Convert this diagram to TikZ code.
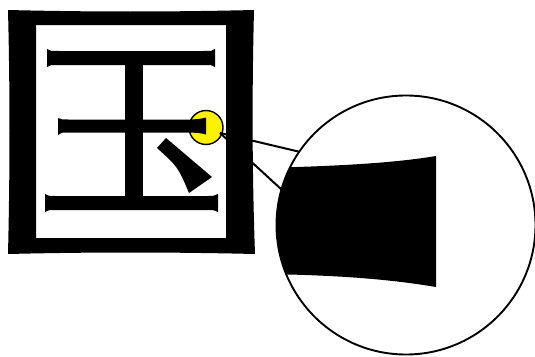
\documentclass[tikz,border=0pt]{standalone}
\begin{document}
\begin{tikzpicture}[x=1pt,y=-1pt,
  ink/.style={fill=black,draw=none},
  lens/.style={draw=black,line width=1.9pt},
  ray/.style={draw=black,line width=2pt}]
\useasboundingbox (0,0) rectangle (535,356);
% small magnifier spot
\node[circle,minimum size=34pt,inner sep=0pt,fill=yellow,draw=black,line width=1.4pt] (spot) at (206,127.5) {};
% glyph: frame
\path[ink,even odd rule]
  (8,10) .. controls (90,12) and (170,12) .. (254,10)
  .. controls (252,90) and (252,170) .. (255,254)
  .. controls (170,252) and (90,252) .. (8,254)
  .. controls (10,170) and (10,90) .. (8,10) -- cycle
  (36,25) rectangle (226,238);
% top stroke
\path[ink] (47,49) .. controls (50,51) .. (60,51) -- (203,51) .. controls (212,51) .. (215,49)
  -- (215,67) .. controls (212,65) .. (203,65) -- (60,65) .. controls (50,65) .. (47,67) -- cycle;
% middle stroke
\path[ink] (58,118) .. controls (61,119.5) .. (70,119.5) -- (190,119.5) .. controls (200,119) .. (206,117.5)
  -- (206,134.5) .. controls (200,133) .. (190,132.5) -- (70,132.5) .. controls (61,132.5) .. (58,135) -- cycle;
% bottom stroke
\path[ink] (45,194) .. controls (48,196) .. (58,196) -- (205,196) .. controls (214,196) .. (218,194)
  -- (218,212) .. controls (214,210) .. (205,210) -- (58,210) .. controls (48,210) .. (45,212) -- cycle;
% vertical stroke
\path[ink] (125,64) rectangle (143,197);
% dot stroke
\path[ink] (166,138) -- (212,177) -- (189,193) .. controls (178,167) .. (157,148) -- cycle;
% connector rays
\coordinate (p) at (220,133);
\coordinate (q1) at (330,159);
\coordinate (q2) at (300,206.5);
\draw[ray] (p) -- (q1);
\draw[ray] (p) -- (q2);
% big lens
\node[circle,minimum size=259pt,inner sep=0pt,fill=white] (big) at (406,225) {};
\begin{scope}
  \clip (406,225) circle[radius=129.5];
  \path[ink] (260,168) .. controls (350,166) and (400,162) .. (436,156)
    -- (436,287) .. controls (400,281) and (350,275) .. (260,274) -- cycle;
\end{scope}
\node[circle,minimum size=259pt,inner sep=0pt,lens] at (big.center) {};
\end{tikzpicture}
\end{document}
